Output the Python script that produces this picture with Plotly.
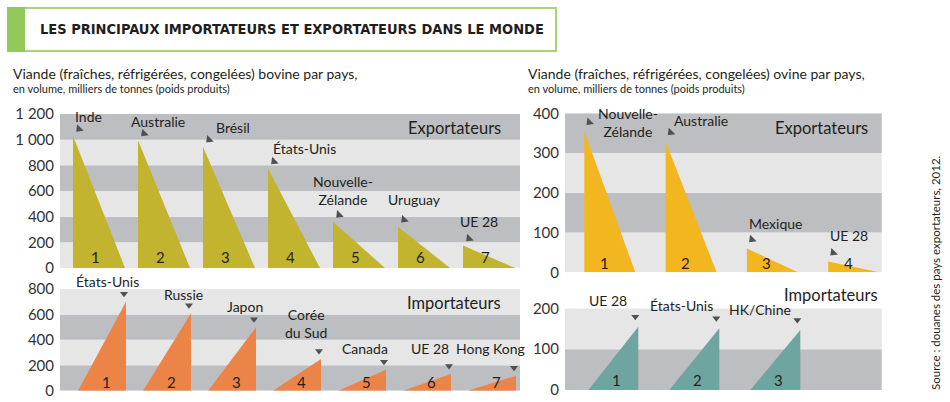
import plotly.graph_objects as go

W, H = 950, 402

# ---------------- data ----------------
bovine_export_countries = ["Inde", "Australie", "Brésil", "États-Unis", "Nouvelle-<br>Zélande", "Uruguay", "UE 28"]
bovine_export_values = [1030, 995, 945, 775, 360, 322, 175]

bovine_import_countries = ["États-Unis", "Russie", "Japon", "Corée<br>du Sud", "Canada", "UE 28", "Hong Kong"]
bovine_import_values = [700, 610, 500, 250, 165, 132, 118]

ovine_export_countries = ["Nouvelle-<br>Zélande", "Australie", "Mexique", "UE 28"]
ovine_export_values = [355, 329, 60, 27]

ovine_import_countries = ["UE 28", "États-Unis", "HK/Chine"]
ovine_import_values = [155, 151, 147]

bovine_export_ticks = [0, 200, 400, 600, 800, 1000, 1200]
bovine_export_ticklabels = ["0", "200", "400", "600", "800", "1 000", "1 200"]
bovine_import_ticks = [0, 200, 400, 600, 800]
bovine_import_ticklabels = ["0", "200", "400", "600", "800"]
ovine_export_ticks = [0, 100, 200, 300, 400]
ovine_export_ticklabels = ["0", "100", "200", "300", "400"]
ovine_import_ticks = [0, 100, 200]
ovine_import_ticklabels = ["0", "100", "200"]

# ---------------- styling / layout ----------------
FONT = "Lato, 'Open Sans', sans-serif"
TXT = "#231F20"
DARK = "#BDBEC1"
LIGHT = "#E6E6E7"
ARROW = "#505052"

panels = [
    dict(name="1", countries=bovine_export_countries, values=bovine_export_values,
         ticks=bovine_export_ticks, ticklabels=bovine_export_ticklabels,
         left=60, right=520, top=114, bottom=268, ymax=1200, step=200,
         color="#C3B42F", kind="exp", start=13, pitch=65, width=52,
         dark_odd=True, head="Exportateurs", head_x=443, head_y=128,
         label_off=[(15, -19), (20, -19), (30, -19), (36, -20), (10, -31), (16, -27), (16, -24)],
         arrow_off=(6, -7), num_off=(22, -11)),
    dict(name="2", countries=bovine_import_countries, values=bovine_import_values,
         ticks=bovine_import_ticks, ticklabels=bovine_import_ticklabels,
         left=60, right=520, top=289, bottom=390.7, ymax=800, step=200,
         color="#EC8447", kind="imp", start=66, pitch=65, width=48,
         dark_odd=False, head="Importateurs", head_x=443, head_y=303,
         label_off=[(-19, -20), (-8, -19), (-11, -21), (-15, -35), (-21, -21), (-21, -25), (-26, -27)],
         arrow_off=(-2, -8), num_off=(-20, -9)),
    dict(name="3", countries=ovine_export_countries, values=ovine_export_values,
         ticks=ovine_export_ticks, ticklabels=ovine_export_ticklabels,
         left=565, right=881.7, top=113.3, bottom=272.3, ymax=400, step=100,
         color="#F2B61E", kind="exp", start=19.3, pitch=81.3, width=51,
         dark_odd=True, head="Exportateurs", head_x=305, head_y=127.7,
         label_off=[(44, -9), (35, -21), (29, -25), (21, -26)],
         arrow_off=(5, -9), num_off=(20, -9)),
    dict(name="4", countries=ovine_import_countries, values=ovine_import_values,
         ticks=ovine_import_ticks, ticklabels=ovine_import_ticklabels,
         left=565, right=881.7, top=308.3, bottom=390, ymax=200, step=100,
         color="#6FA5A1", kind="imp", start=73.3, pitch=81, width=50,
         dark_odd=False, head="Importateurs", head_x=315, head_y=295,
         label_off=[(-30, -26), (-38, -23), (-40, -20)],
         arrow_off=(-3, -10), num_off=(-22, -10)),
]

fig = go.Figure()
shapes = []
annotations = []
layout_axes = {}

for p in panels:
    n = p["name"]
    xa = "x" if n == "1" else "x" + n
    ya = "y" if n == "1" else "y" + n
    yd = ya + " domain"
    xkey = "xaxis" if n == "1" else "xaxis" + n
    ykey = "yaxis" if n == "1" else "yaxis" + n
    pw = p["right"] - p["left"]
    ph = p["bottom"] - p["top"]
    ymax = p["ymax"]

    def ydom(val, dpx, ymax=ymax, ph=ph):
        # value -> fraction of y domain, shifted by dpx pixels (negative = up)
        return val / ymax - dpx / ph

    layout_axes[xkey] = dict(domain=[p["left"] / W, p["right"] / W], range=[0, pw],
                             anchor=ya, showticklabels=False, showgrid=False,
                             zeroline=False, showline=False, fixedrange=True,
                             automargin=False, ticks="")
    layout_axes[ykey] = dict(domain=[1 - p["bottom"] / H, 1 - p["top"] / H],
                             range=[0, ymax], anchor=xa, tickvals=p["ticks"],
                             ticktext=p["ticklabels"], showgrid=False, zeroline=False,
                             showline=False, ticks="", ticklabelstandoff=5,
                             automargin=False,
                             tickfont=dict(family=FONT, size=15, color="#333333"),
                             fixedrange=True)

    # background bands
    k = 0
    v = 0
    while v < ymax:
        dark = (k % 2 == 1) if p["dark_odd"] else (k % 2 == 0)
        shapes.append(dict(type="rect", xref=xa + " domain", yref=ya, x0=0, x1=1,
                           y0=v, y1=v + p["step"], fillcolor=DARK if dark else LIGHT,
                           line=dict(width=0), layer="below"))
        v += p["step"]
        k += 1

    # panel heading
    annotations.append(dict(text=p["head"], xref=xa, yref=yd, x=p["head_x"],
                            y=(p["bottom"] - p["head_y"]) / ph, xanchor="right",
                            yanchor="middle", showarrow=False,
                            font=dict(family=FONT, size=16.5, color=TXT)))

    ax_x, ax_y = [], []
    for i, (c, val) in enumerate(zip(p["countries"], p["values"])):
        if p["kind"] == "exp":
            L = p["start"] + p["pitch"] * i
            R = L + p["width"]
            xs = [L, L, R, L]
            vx = L
        else:
            R = p["start"] + p["pitch"] * i
            L = R - p["width"]
            xs = [L, R, R, L]
            vx = R
        ys = [0, val, 0, 0]
        fig.add_trace(go.Scatter(x=xs, y=ys, xaxis=xa, yaxis=ya, mode="lines",
                                 fill="toself", fillcolor=p["color"],
                                 line=dict(width=0, color=p["color"]),
                                 hoverinfo="skip", showlegend=False))
        # rank number
        annotations.append(dict(text=str(i + 1), xref=xa, yref=yd, x=vx + p["num_off"][0],
                                y=ydom(0, p["num_off"][1]), showarrow=False,
                                xanchor="center", yanchor="middle",
                                font=dict(family=FONT, size=15, color=TXT)))
        # country label
        dx, dy = p["label_off"][i]
        annotations.append(dict(text=c, xref=xa, yref=yd, x=vx + dx,
                                y=ydom(val, dy), showarrow=False,
                                xanchor="center", yanchor="middle",
                                font=dict(family=FONT, size=14, color=TXT)))
        ax_x.append(vx + p["arrow_off"][0])
        ax_y.append(val - p["arrow_off"][1] * ymax / ph)

    fig.add_trace(go.Scatter(x=ax_x, y=ax_y, xaxis=xa, yaxis=ya, mode="markers",
                             marker=dict(symbol="triangle-down", size=8 if p["kind"] == "exp" else 7,
                                         color=ARROW, angle=45 if p["kind"] == "exp" else 0,
                                         line=dict(width=0)),
                             cliponaxis=False, hoverinfo="skip", showlegend=False))

# ---------------- title box ----------------
shapes.append(dict(type="rect", xref="paper", yref="paper", x0=8 / W, x1=556 / W,
                   y0=1 - 51 / H, y1=1 - 8 / H, line=dict(color="#A8D676", width=2),
                   fillcolor="white", layer="below"))
shapes.append(dict(type="rect", xref="paper", yref="paper", x0=7 / W, x1=25 / W,
                   y0=1 - 52 / H, y1=1 - 7 / H, line=dict(width=0),
                   fillcolor="#93C95A", layer="below"))
annotations.append(dict(text="<b>LES PRINCIPAUX IMPORTATEURS ET EXPORTATEURS DANS LE MONDE</b>",
                        xref="paper", yref="paper", x=38 / W, y=1 - 29 / H,
                        xanchor="left", yanchor="middle", showarrow=False,
                        font=dict(family="'DejaVu Sans Condensed', sans-serif",
                                  size=14.5, color="#1E1E1E")))

# subtitles
for x0, kind in [(11, "bovine"), (526, "ovine")]:
    annotations.append(dict(text=f"Viande (fraîches, réfrigérées, congelées) {kind} par pays,",
                            xref="paper", yref="paper", x=x0 / W, y=1 - 73 / H,
                            xanchor="left", yanchor="middle", showarrow=False,
                            font=dict(family=FONT, size=14, color=TXT)))
    annotations.append(dict(text="en volume, milliers de tonnes (poids produits)",
                            xref="paper", yref="paper", x=x0 / W, y=1 - 89 / H,
                            xanchor="left", yanchor="middle", showarrow=False,
                            font=dict(family=FONT, size=11, color=TXT)))

annotations.append(dict(text="Source : douanes des pays exportateurs, 2012.",
                        xref="paper", yref="paper", x=935 / W, y=1 - 273 / H,
                        xanchor="center", yanchor="middle", textangle=-90, showarrow=False,
                        font=dict(family=FONT, size=11.5, color=TXT)))

fig.update_layout(template="none", width=W, height=H, margin=dict(l=0, r=0, t=0, b=0, pad=0),
                  paper_bgcolor="white", plot_bgcolor="rgba(0,0,0,0)",
                  shapes=shapes, annotations=annotations, showlegend=False,
                  **layout_axes)

fig.write_html("out.html", config={"displayModeBar": False},
               post_script="document.body.style.margin='0px';")
